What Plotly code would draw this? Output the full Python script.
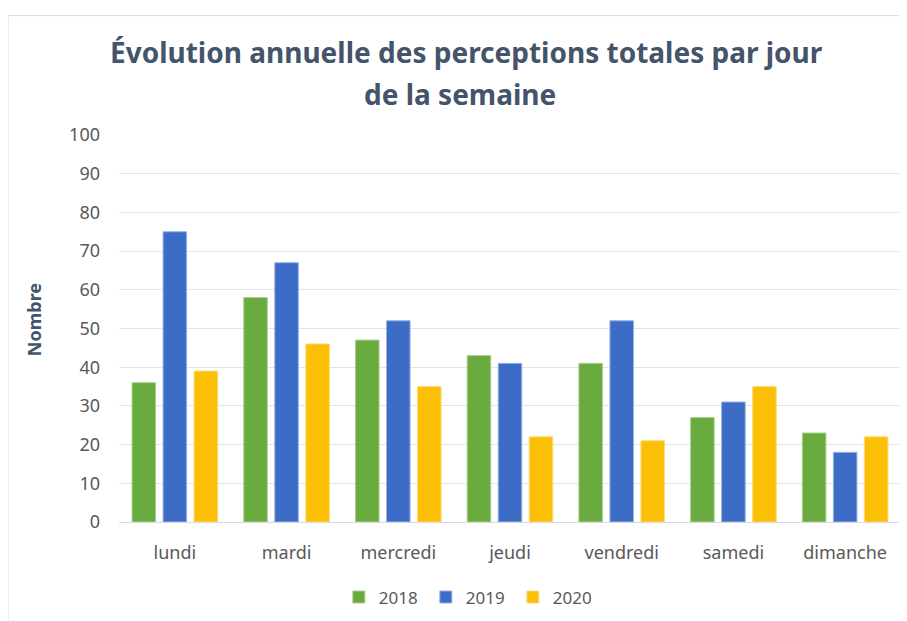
import plotly.graph_objects as go

days = ["lundi", "mardi", "mercredi", "jeudi", "vendredi", "samedi", "dimanche"]
v2018 = [36, 58, 47, 43, 41, 27, 23]
v2019 = [75, 67, 52, 41, 52, 31, 18]
v2020 = [39, 46, 35, 22, 21, 35, 22]
years = ["2018", "2019", "2020"]
colors = ["#6AAB40", "#3D6CC7", "#FBBF06"]
edges = ["#A9CF8E", "#97B1E3", "#FFDA7A"]

fig = go.Figure()
for name, vals, c, e in zip(years, [v2018, v2019, v2020], colors, edges):
    fig.add_trace(go.Bar(x=days, y=vals, name=name,
                         marker=dict(color=c, line=dict(color=e, width=1))))

font = "Noto Sans, Open Sans, sans-serif"
title_col = "#44546A"
# page body has an 8px margin: figure is sized/placed to compensate
fig.update_layout(
    width=899, height=613,
    paper_bgcolor="white", plot_bgcolor="white",
    margin=dict(l=111, r=6, t=127, b=96),
    barmode="group", bargap=0.167, bargroupgap=0.24,
    font=dict(family=font, color="#595959", size=18),
    showlegend=True,
    xaxis=dict(showgrid=False, showline=True, linecolor="#D9D9D9", linewidth=1,
               ticks="", tickfont=dict(size=18, color="#595959"), ticklabelstandoff=14,
               automargin=False),
    yaxis=dict(range=[0, 100], dtick=10, showgrid=True, gridcolor="#E3E3E3", gridwidth=1,
               zeroline=False, showline=False, ticks="",
               tickfont=dict(size=18, color="#595959"), ticklabelstandoff=18,
               automargin=False),
    legend=dict(orientation="h", x=0.448, xanchor="center", y=-0.195, yanchor="middle",
                font=dict(size=17, color="#595959"), traceorder="normal",
                itemwidth=30, tracegroupgap=0, entrywidth=42, entrywidthmode="pixels"),
    annotations=[
        dict(text="Évolution annuelle des perceptions totales par jour", xref="paper", yref="paper",
             x=0.444, y=1.2134, xanchor="center", yanchor="middle", showarrow=False,
             font=dict(family=font, size=28, color=title_col, weight="bold")),
        dict(text="de la semaine", xref="paper", yref="paper",
             x=0.436, y=1.106, xanchor="center", yanchor="middle", showarrow=False,
             font=dict(family=font, size=28, color=title_col, weight="bold")),
        dict(text="Nombre", xref="paper", yref="paper", textangle=-90,
             x=-0.1085, y=0.522, xanchor="center", yanchor="middle", showarrow=False,
             font=dict(family=font, size=18, color=title_col, weight="bold")),
    ],
    shapes=[dict(type="rect", xref="paper", yref="paper",
                 x0=-0.142, x1=1.2, y0=-0.4, y1=1.3085,
                 line=dict(color="#D9D9D9", width=1), fillcolor="rgba(0,0,0,0)", layer="below")],
)
fig.write_html("out.html")
